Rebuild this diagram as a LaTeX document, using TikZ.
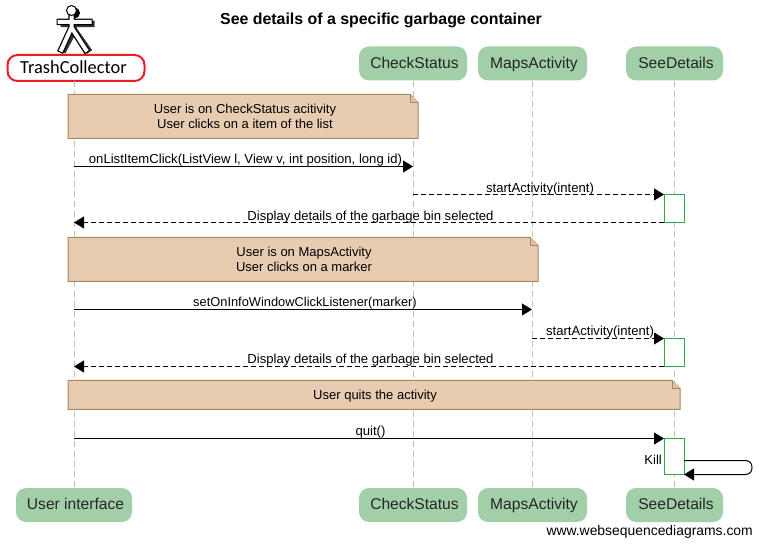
\documentclass[tikz,border=0pt]{standalone}
\usepackage{fontspec}
\setmainfont{Liberation Sans}
\newfontfamily\carlito{Carlito}
\usetikzlibrary{arrows.meta}
\definecolor{partfill}{HTML}{A2CFA8}
\definecolor{notefill}{HTML}{E8CCB2}
\definecolor{noteline}{HTML}{A9875B}
\definecolor{actgreen}{HTML}{2BA84A}
\definecolor{redbox}{HTML}{ED1C24}
\tikzset{
  x=1pt,y=-1pt,
  part/.style={fill=partfill,draw=none,rounded corners=10pt,minimum height=34pt,inner sep=0pt,font=\fontsize{15.6}{19}\selectfont,text=black!85,text height=12.5pt,text depth=3pt,execute at begin node={\hspace*{3pt}}},
  life/.style={draw=black!25,line width=1pt,dash pattern=on 6pt off 4pt},
  msg/.style={draw=black,line width=1pt,-{Triangle[length=10pt,width=12pt]}},
  ret/.style={msg,dash pattern=on 5pt off 3pt},
  lab/.style={font=\fontsize{13.1}{14}\selectfont,inner sep=0pt,anchor=base},
  activ/.style={draw=actgreen,fill=white,line width=1pt,minimum width=20pt,inner sep=0pt,outer sep=0pt},
  notetext/.style={font=\fontsize{13}{15}\selectfont,align=center,inner sep=0pt},
}
\newcommand{\notebox}[4]{% x1 y1 x2 y2
  \fill[notefill] (#1,#2) -- (#3-8,#2) -- (#3,#2+8) -- (#3,#4) -- (#1,#4) -- cycle;
  \draw[noteline,line width=1pt] (#1,#2) -- (#3-8,#2) -- (#3,#2+8) -- (#3,#4) -- (#1,#4) -- cycle;
  \draw[noteline,line width=1pt,fill=notefill!85!noteline] (#3-8,#2) -- (#3-8,#2+8) -- (#3,#2+8);
}
\begin{document}
\begin{tikzpicture}
\useasboundingbox (0,0) rectangle (761,545);
\begin{scope}[shift={(0,0.5)}]
% participants
\node[draw=redbox,line width=2pt,rounded corners=10pt,minimum width=137pt,minimum height=26pt,inner sep=0pt] (tc) at (76,67.5) {};
\node[font=\carlito\fontsize{18.4}{20}\selectfont,inner sep=0pt] (tct) at (73.5,67) {TrashCollector};
\node[part,minimum width=108pt] (cs) at (413,63) {CheckStatus};
\node[part,minimum width=109pt] (ma) at (532.5,63) {MapsActivity};
\node[part,minimum width=97pt] (sd) at (674.5,63) {SeeDetails};
\node[part,minimum width=116pt] (uib) at (74,504.5) {User interface};
\node[part,minimum width=108pt] (csb) at (413,504.5) {CheckStatus};
\node[part,minimum width=109pt] (mab) at (532.5,504.5) {MapsActivity};
\node[part,minimum width=97pt] (sdb) at (674.5,504.5) {SeeDetails};
% lifelines
\coordinate (tcl) at (74,81);
\draw[life] (tcl) -- (uib.north);
\draw[life] (cs.south) -- (csb.north);
\draw[life] (ma.south) -- (mab.north);
\draw[life] (sd.south) -- (sdb.north);
% actor icon
\begin{scope}[line cap=butt]
  \begin{scope}[shift={(2.5,2.5)}]
    \draw[black!80,line width=6.5pt] (71,18) -- (71,28) (58,21) -- (92,21) (71.5,27) -- (60,49) (71.5,27) -- (87,49);
    \fill[black] (72,10) circle (5.5);
  \end{scope}
  \draw[black,line width=6.5pt] (71.5,14) -- (71.5,27) (56.5,21.5) -- (92.5,21.5) (71.5,27) -- (60,52) (71.5,27) -- (87.5,52);
  \draw[white,line width=4pt] (71.5,14) -- (71.5,27) (57.5,21.5) -- (91.5,21.5) (71.5,27) -- (60.5,51) (71.5,27) -- (87,51);
  \draw[black,line width=1pt,fill=white] (71.5,10) circle (5);
\end{scope}
% title
\node[font=\bfseries\fontsize{15.9}{17}\selectfont,inner sep=0pt] (title) at (381,20) {See details of a specific garbage container};
% notes
\notebox{68}{94}{418}{138}
\node[notetext] (n1) at (245,116) {User is on CheckStatus acitivity\\User clicks on a item of the list};
\notebox{68}{237}{538}{281}
\node[notetext] (n2) at (304,259) {User is on MapsActivity\\User clicks on a marker};
\notebox{68}{380}{680}{409}
\node[notetext] (n3) at (375,395.5) {User quits the activity};
% activations
\node[activ,minimum height=28pt] (a1) at (674,208) {};
\node[activ,minimum height=28pt] (a2) at (674,352) {};
\node[activ,minimum height=36pt] (a3) at (674,456) {};
% message end points
\coordinate (u1) at (74,166); \coordinate (c1) at (413,166);
\coordinate (c2) at (413,194);
\coordinate (u3) at (74,222);
\coordinate (u4) at (74,309); \coordinate (m4) at (532,309);
\coordinate (m5) at (532,338);
\coordinate (u6) at (74,366);
\coordinate (u7) at (74,438);
% messages
\draw[msg] (u1) -- (c1);
\node[lab] (l1) at (245.5,163) {onListItemClick(ListView l, View v, int position, long id)};
\draw[ret] (c2) -- (a1.north west);
\node[lab] (l2) at (540,192) {startActivity(intent)};
\draw[ret] (a1.south west) -- (u3);
\node[lab] (l3) at (370.5,220) {Display details of the garbage bin selected};
\draw[msg] (u4) -- (m4);
\node[lab,font=\fontsize{12.85}{14}\selectfont] (l4) at (305,306) {setOnInfoWindowClickListener(marker)};
\draw[ret] (m5) -- (a2.north west);
\node[lab] (l5) at (600,335) {startActivity(intent)};
\draw[ret] (a2.south west) -- (u6);
\node[lab] (l6) at (370.5,363) {Display details of the garbage bin selected};
\draw[msg] (u7) -- (a3.north west);
\node[lab] (l7) at (370.5,435) {quit()};
\draw[msg] (a3.east |- 0,460) -- (745,460) .. controls (750,460) and (752,463) .. (752,467) .. controls (752,471) and (750,474) .. (745,474) -- (a3.south east);
\node[font=\fontsize{13}{15}\selectfont,inner sep=0pt,anchor=east] (kill) at (662,459) {Kill};
% footer
\node[font=\fontsize{13.9}{16}\selectfont,inner sep=0pt,anchor=base east] (foot) at (753,535) {www.websequencediagrams.com};
\end{scope}
\end{tikzpicture}
\end{document}
